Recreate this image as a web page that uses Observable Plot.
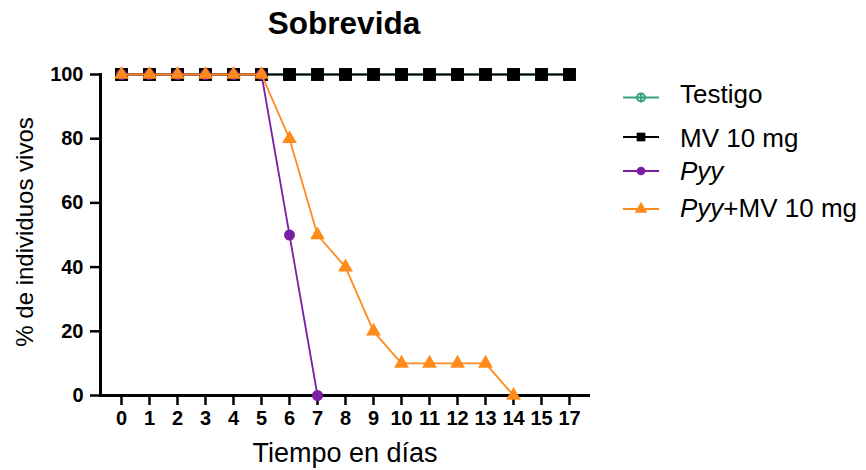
<!DOCTYPE html>
<html>
<head>
<meta charset="utf-8">
<script src="https://cdn.jsdelivr.net/npm/d3@7"></script>
<script src="https://cdn.jsdelivr.net/npm/@observablehq/plot@0.6"></script>
<style>
  body { margin: 0; background: #fff; }
  #wrap { position: relative; width: 866px; height: 470px; font-family: "Liberation Sans", Arial, sans-serif; color: #000; }
  #chart { position: absolute; left: 0; top: 0; }
  .abs { position: absolute; white-space: nowrap; line-height: 1; }
  #title { left: 344px; top: 8px; transform: translateX(-50%); font-size: 31.5px; font-weight: bold; line-height: 31.5px; }
  #xlabel { left: 345px; top: 440px; transform: translateX(-50%); font-size: 27px; line-height: 27px; }
  #ylabel { left: 25px; top: 232px; transform: translate(-50%, -50%) rotate(-90deg); font-size: 24px; line-height: 24px; }
  .leg { left: 680px; font-size: 26px; line-height: 26px; }
  #chart svg g[aria-label="y-axis tick label"] text,
  #chart svg g[aria-label="x-axis tick label"] text { font-weight: bold; }
</style>
</head>
<body>
<div id="wrap">
  <div id="chart"></div>
  <div id="title" class="abs">Sobrevida</div>
  <div id="xlabel" class="abs">Tiempo en días</div>
  <div id="ylabel" class="abs">% de individuos vivos</div>
  <svg id="legsym" class="abs" style="left:0;top:0" width="866" height="470"></svg>
  <div id="legtext"></div>
</div>
<script>
// ---- data ----
const days = [0, 1, 2, 3, 4, 5, 6, 7, 8, 9, 10, 11, 12, 13, 14, 15, 17];
const seriesNames = ["Testigo", "MV 10 mg", "Pyy", "Pyy+MV 10 mg"];
const seriesColors = ["#34a37c", "#000000", "#7a1fa2", "#ff8a1c"];
const yTicks = [0, 20, 40, 60, 80, 100];

const testigoDays = [0, 1, 2, 3, 4, 5, 6, 7, 8, 9, 10, 11, 12, 13, 14, 15, 17];
const testigoValues = [100, 100, 100, 100, 100, 100, 100, 100, 100, 100, 100, 100, 100, 100, 100, 100, 100];
const mvDays = [0, 1, 2, 3, 4, 5, 6, 7, 8, 9, 10, 11, 12, 13, 14, 15, 17];
const mvValues = [100, 100, 100, 100, 100, 100, 100, 100, 100, 100, 100, 100, 100, 100, 100, 100, 100];
const pyyDays = [0, 1, 2, 3, 4, 5, 6, 7];
const pyyValues = [100, 100, 100, 100, 100, 100, 50, 0];
const pyyMvDays = [0, 1, 2, 3, 4, 5, 6, 7, 8, 9, 10, 11, 12, 13, 14];
const pyyMvValues = [100, 100, 100, 100, 100, 100, 80, 50, 40, 20, 10, 10, 10, 10, 0];

const toRows = (ds, vs) => ds.map((d, i) => ({day: d, value: vs[i]}));
const testigo = toRows(testigoDays, testigoValues);
const mv = toRows(mvDays, mvValues);
const pyy = toRows(pyyDays, pyyValues);
const pyyMv = toRows(pyyMvDays, pyyMvValues);

const chart = Plot.plot({
  width: 866,
  height: 470,
  marginLeft: 100,
  marginRight: 276,
  marginTop: 74,
  marginBottom: 75,
  style: {fontFamily: '"Liberation Sans", Arial, sans-serif', background: "transparent"},
  x: {type: "point", domain: days, range: [114, 576], padding: 0},
  y: {domain: [0, 100]},
  marks: [
    Plot.axisY({ticks: yTicks, tickSize: 10, tickPadding: 7, fontSize: 20, strokeWidth: 2.5, label: null}),
    Plot.axisX({tickSize: 10, tickPadding: 5, fontSize: 20, strokeWidth: 2.5, label: null}),
    Plot.ruleY([0], {strokeWidth: 3}),
    Plot.frame({anchor: "left", strokeWidth: 3}),
    Plot.line(testigo, {x: "day", y: "value", stroke: seriesColors[0], strokeWidth: 2}),
    Plot.dot(testigo, {x: "day", y: "value", fill: seriesColors[0], r: 5, symbol: "circle"}),
    Plot.line(mv, {x: "day", y: "value", stroke: seriesColors[1], strokeWidth: 2}),
    Plot.dot(mv, {x: "day", y: "value", fill: seriesColors[1], r: 7.3, symbol: "square"}),
    Plot.line(pyy, {x: "day", y: "value", stroke: seriesColors[2], strokeWidth: 1.8}),
    Plot.dot(pyy, {x: "day", y: "value", fill: seriesColors[2], r: 5.5, symbol: "circle"}),
    Plot.line(pyyMv, {x: "day", y: "value", stroke: seriesColors[3], strokeWidth: 1.8}),
    Plot.dot(pyyMv, {x: "day", y: "value", fill: seriesColors[3], r: 5.5, symbol: "triangle"})
  ]
});
document.getElementById("chart").appendChild(chart);

// ---- legend ----
const legRowY = [97.5, 137, 171, 209];
const legTextTop = [81, 125, 158, 195];
const legSym = d3.select("#legsym");
const symbols = ["circle", "square", "circle", "triangle"];
seriesNames.forEach((name, i) => {
  const y = legRowY[i];
  legSym.append("line").attr("x1", 623).attr("x2", 659).attr("y1", y).attr("y2", y)
    .attr("stroke", seriesColors[i]).attr("stroke-width", 2);
  if (i === 0) {
    legSym.append("circle").attr("cx", 641).attr("cy", y).attr("r", 5).attr("fill", seriesColors[i]);
    [[-1.8,-1.8],[1.8,-1.8],[-1.8,1.8],[1.8,1.8]].forEach(([dx, dy]) =>
      legSym.append("circle").attr("cx", 641 + dx).attr("cy", y + dy).attr("r", 1).attr("fill", "#bfe6d6"));
  } else {
    const sym = {square: d3.symbolSquare, circle: d3.symbolCircle, triangle: d3.symbolTriangle}[symbols[i]];
    const size = [0, 75, 60, 70][i];
    legSym.append("path").attr("d", d3.symbol(sym, size)()).attr("transform", `translate(641,${y})`)
      .attr("fill", seriesColors[i]);
  }
  const div = document.createElement("div");
  div.className = "abs leg";
  div.style.top = legTextTop[i] + "px";
  if (name.startsWith("Pyy")) {
    div.innerHTML = "<i>Pyy</i>" + name.slice(3);
  } else {
    div.textContent = name;
  }
  document.getElementById("legtext").appendChild(div);
});
</script>
</body>
</html>
